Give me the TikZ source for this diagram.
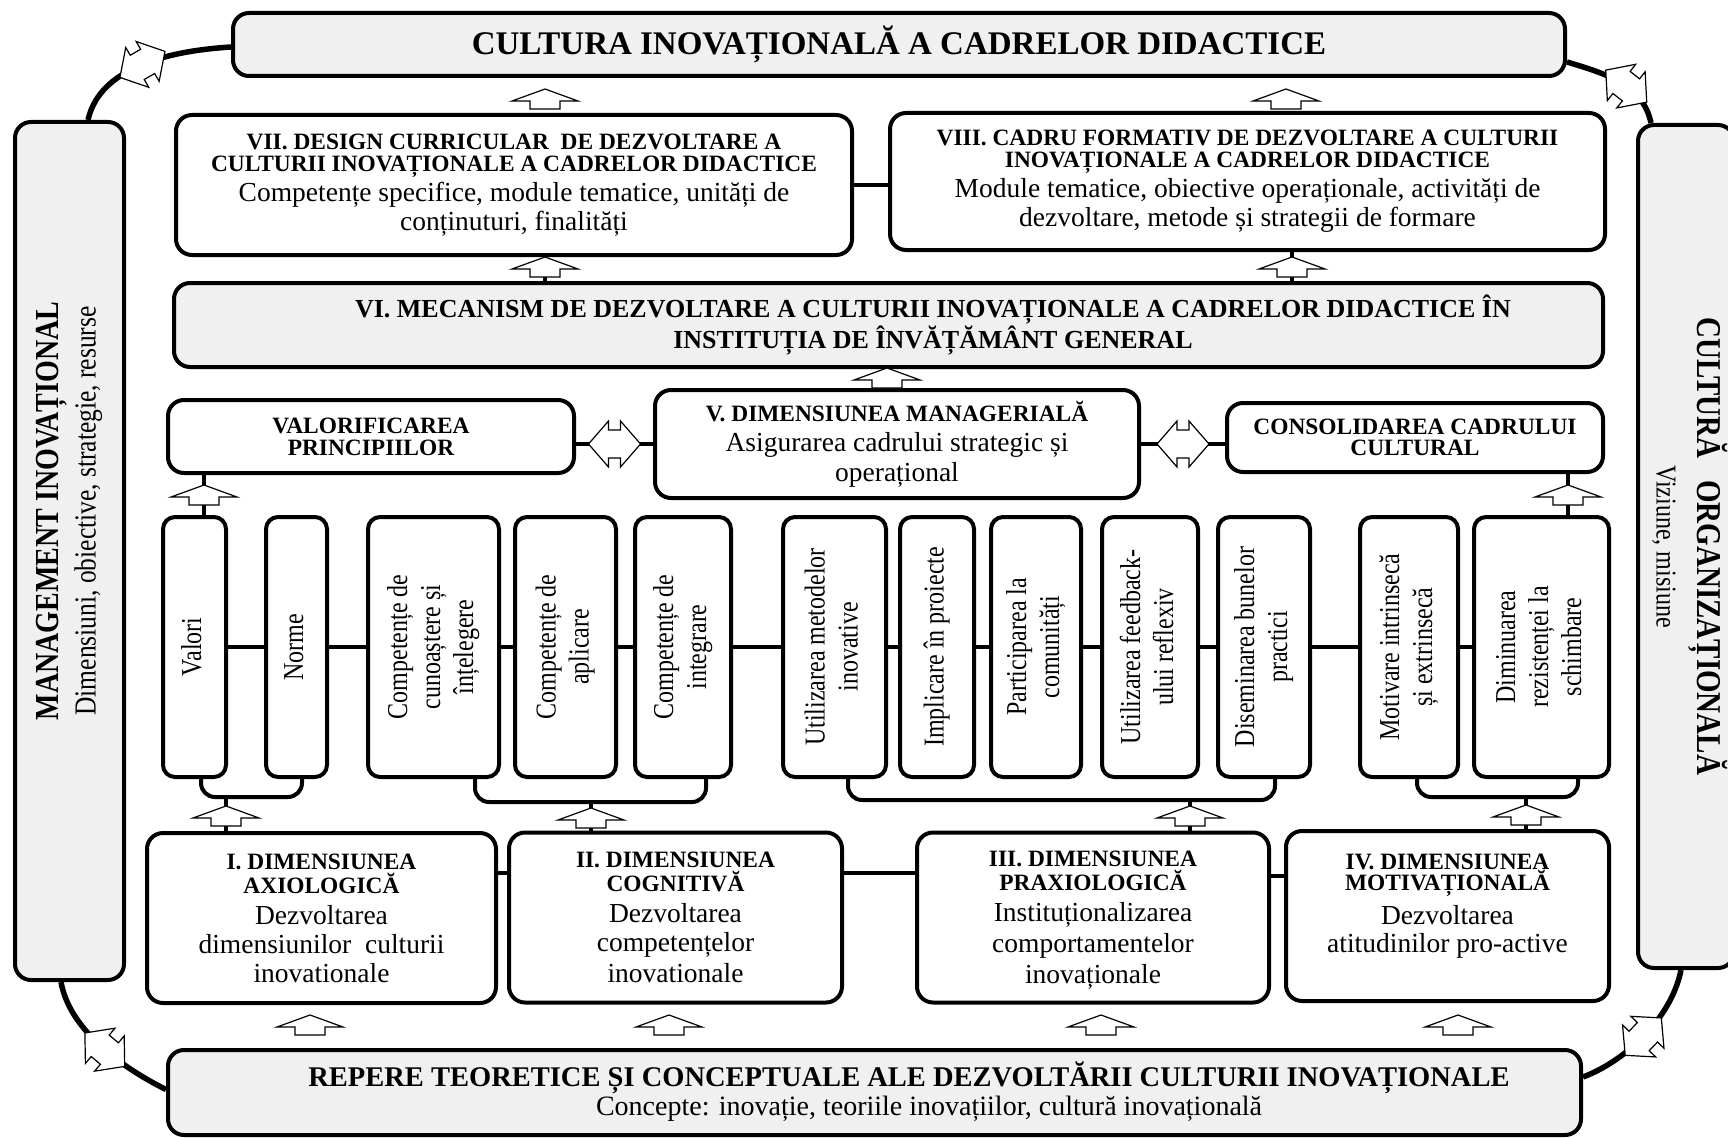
\documentclass[tikz,border=0pt]{standalone}
\usepackage{fontspec}
\setmainfont{Liberation Serif}
\usepackage{graphicx}
\usetikzlibrary{calc}
\newcommand{\titlefont}{\fontsize{33}{36}\selectfont\bfseries}
\newcommand{\hdfont}{\fontsize{23.4}{24}\selectfont\bfseries}
\newcommand{\bdfont}{\normalfont\fontsize{27.5}{29}\selectfont}
\newcommand{\vtfont}{\fontsize{24}{27.5}\selectfont}
\newcommand{\vtext}[1]{\rotatebox{90}{\scalebox{1}[1.2]{\vtfont\begin{tabular}{@{}c@{}}#1\end{tabular}}}}
\begin{document}
\begin{tikzpicture}[x=1pt,y=-1pt,
  box/.style={draw,line width=4pt,rounded corners=16pt,fill=white,align=center,inner sep=0pt,font=\hdfont},
  graybox/.style={box,fill=black!6},
  vbox/.style={draw,line width=4pt,rounded corners=12pt,fill=white,inner sep=0pt,minimum height=260},
  dimbox/.style={box,minimum height=170,text depth=0pt},
  conn/.style={line width=4pt},
  ring/.style={line width=5.5pt},
  uparr/.pic={\draw[line width=1.2pt,fill=white] (-15,10)--(-15,2)--(-33,2)--(0,-10)--(33,2)--(15,2)--(15,10)--cycle;},
  dblarr/.pic={\draw[line width=1.2pt,fill=white] (-26,0)--(-6,-23)--(-6,-14)--(6,-14)--(6,-23)--(26,0)--(6,23)--(6,14)--(-6,14)--(-6,23)--cycle;}]
\useasboundingbox (0,0) rectangle (1728,1137);

% outer frame
\node[graybox,minimum width=1332,minimum height=63,font=\titlefont] (cult) at (899,44.5) {CULTURA INOVAȚIONALĂ A CADRELOR DIDACTICE};
\node[graybox,minimum width=109,minimum height=858,font=\normalfont] (mgmt) at (69.5,551) {\rotatebox{90}{\hspace*{80pt}\scalebox{1}[1.2]{\fontsize{28}{31}\selectfont\begin{tabular}{@{}c@{}}\textbf{MANAGEMENT INOVAȚIONAL}\\{\fontsize{25.5}{31}\selectfont Dimensiuni, obiective, strategie, resurse}\end{tabular}}}};
\node[graybox,minimum width=96,minimum height=843,font=\normalfont] (org) at (1686,546.5) {\rotatebox{-90}{\scalebox{1}[1.2]{\fontsize{29}{34}\selectfont\begin{tabular}{@{}c@{}}\textbf{CULTURĂ\hspace{0.5em} ORGANIZAȚIONALĂ}\\{\fontsize{24}{34}\selectfont Viziune, misiune}\end{tabular}}}};
\node[graybox,minimum width=1413,minimum height=85] (rep) at (874.5,1092.5) {};
\node[align=center,font=\normalfont\fontsize{28}{29}\selectfont] (reptxt) at (909,1092) {{\fontsize{28.5}{29}\selectfont\bfseries REPERE TEORETICE ȘI CONCEPTUALE ALE DEZVOLTĂRII CULTURII INOVAȚIONALE}\\\hspace*{40pt}Concepte: inovație, teoriile inovațiilor, cultură inovațională};

\draw[ring] ([xshift=18.5pt]mgmt.north) .. controls +(10,-45) and +(-80,5) .. coordinate[pos=.56] (tlm) ([yshift=-2.5pt]cult.west);
\draw[ring] ([yshift=-17.5pt]cult.east) .. controls +(40,12) and +(-8,-38) .. coordinate[pos=.56] (trm) ([xshift=-35pt]org.north);
\draw[ring] ([xshift=-8.5pt]mgmt.south) .. controls +(8,45) and +(-50,-25) .. coordinate[pos=.56] (blm) ([yshift=3pt]rep.west);
\draw[ring] ([yshift=15.5pt]rep.east) .. controls +(40,-15) and +(-10,50) .. coordinate[pos=.5] (brm) ([xshift=-5pt]org.south);
\pic[rotate=30] at (tlm) {dblarr};
\pic[rotate=-38] at (trm) {dblarr};
\pic[rotate=-40] at (blm) {dblarr};
\pic[rotate=46] at (brm) {dblarr};

% upper levels
\node[box,minimum width=676,minimum height=140] (vii) at (514,185) {VII. DESIGN CURRICULAR\ \ DE DEZVOLTARE A\\[-2pt]CULTURII INOVAȚIONALE A CADRELOR DIDACTICE\\[4pt]{\bdfont Competențe specifice, module tematice, unități de}\\[3pt]{\bdfont conținuturi, finalități}};
\node[box,minimum width=715,minimum height=137] (viii) at (1247.5,181.5) {VIII. CADRU FORMATIV DE DEZVOLTARE A CULTURII\\[-2pt]INOVAȚIONALE A CADRELOR DIDACTICE\\[4pt]{\bdfont Module tematice, obiective operaționale, activități de}\\[3pt]{\bdfont dezvoltare, metode și strategii de formare}};
\node[graybox,minimum width=1429,minimum height=84] (vi) at (888.5,325) {};
\node[align=center,font=\fontsize{26}{26}\selectfont\bfseries] (vitxt) at (933,325) {VI. MECANISM DE DEZVOLTARE A CULTURII INOVAȚIONALE A CADRELOR DIDACTICE ÎN\\INSTITUȚIA DE ÎNVĂȚĂMÂNT GENERAL};
\node[box,minimum width=406,minimum height=73] (val) at (371,436.5) {VALORIFICAREA\\[-2pt]PRINCIPIILOR};
\node[box,minimum width=484,minimum height=108] (v) at (897,444) {V. DIMENSIUNEA MANAGERIALĂ\\[6pt]{\bdfont Asigurarea cadrului strategic și}\\[4pt]{\bdfont operațional}};
\node[box,minimum width=376,minimum height=69] (cons) at (1415,437.5) {CONSOLIDAREA CADRULUI\\[-3pt]CULTURAL};

\pic at (545,99) {uparr};
\pic at (1286,99) {uparr};
\draw[conn] (vii.east) -- (vii.east -| viii.west);
\coordinate (a1) at (545,267);
\coordinate (a2) at (1292,267);
\coordinate (a3) at (887,378);
\draw[conn] (a1 |- vi.north) -- (a1 |- vii.south);
\draw[conn] (a2 |- vi.north) -- (a2 |- viii.south);
\draw[conn] (a3 |- v.north) -- (a3 |- vi.south);
\pic at (a1) {uparr};
\pic at (a2) {uparr};
\pic at (a3) {uparr};
\draw[conn] (v.west) -- (v.west -| val.east) coordinate[pos=.5] (d1);
\draw[conn] (v.east) -- (v.east -| cons.west) coordinate[pos=.5] (d2);
\pic at (d1) {dblarr};
\pic at (d2) {dblarr};

% components
\node[vbox,minimum width=63] (valori) at (194.5,647) {\vtext{Valori}};
\node[vbox,minimum width=61] (norme) at (296.5,647) {\vtext{Norme}};
\node[vbox,minimum width=131] (cun) at (433.5,647) {\vtext{Competențe de\\cunoaștere și\\înțelegere}};
\node[vbox,minimum width=101] (apl) at (565.5,647) {\vtext{Competențe de\\aplicare}};
\node[vbox,minimum width=96] (integ) at (683,647) {\vtext{Competențe de\\integrare}};
\node[vbox,minimum width=103] (util) at (834.5,647) {\vtext{Utilizarea metodelor\\inovative}};
\node[vbox,minimum width=74] (impl) at (937,647) {\vtext{Implicare în proiecte}};
\node[vbox,minimum width=90] (part) at (1036,647) {\vtext{Participarea la\\comunități}};
\node[vbox,minimum width=96] (feed) at (1150,647) {\vtext{Utilizarea feedback-\\ului reflexiv}};
\node[vbox,minimum width=92] (dis) at (1264,647) {\vtext{Diseminarea bunelor\\practici}};
\node[vbox,minimum width=98] (motiv) at (1409,647) {\vtext{Motivare intrinsecă\\și extrinsecă}};
\node[vbox,minimum width=135] (dimin) at (1541.5,647) {\vtext{Diminuarea\\rezistenței la\\schimbare}};
\foreach \a/\b in {valori/norme,norme/cun,cun/apl,apl/integ,integ/util,util/impl,impl/part,part/feed,feed/dis,dis/motiv,motiv/dimin}
  \draw[conn] (\a) -- (\b);

\coordinate (a4) at (204,495);
\coordinate (a5) at (1568,495);
\draw[conn] (a4 |- valori.north) -- (a4 |- val.south);
\draw[conn] (a5 |- dimin.north) -- (a5 |- cons.south);
\pic at (a4) {uparr};
\pic at (a5) {uparr};

% dimensions
\node[dimbox,minimum width=349] (dI) at (321.5,918) {I. DIMENSIUNEA\\AXIOLOGICĂ\\[7pt]{\bdfont Dezvoltarea}\\[5pt]{\bdfont dimensiunilor\ \ culturii}\\[5pt]{\bdfont inovationale}};
\node[dimbox,minimum width=333] (dII) at (675.5,917.5) {II. DIMENSIUNEA\\COGNITIVĂ\\[7pt]{\bdfont Dezvoltarea}\\[5pt]{\bdfont competențelor}\\[5pt]{\bdfont inovationale}};
\node[dimbox,minimum width=352] (dIII) at (1093,917.5) {III. DIMENSIUNEA\\PRAXIOLOGICĂ\\[7pt]{\bdfont Instituționalizarea}\\[5pt]{\bdfont comportamentelor}\\[5pt]{\bdfont inovaționale}};
\node[dimbox,minimum width=323,text depth=26pt] (dIV) at (1447.5,916) {IV. DIMENSIUNEA\\[-3pt]MOTIVAȚIONALĂ\\[8pt]{\bdfont Dezvoltarea}\\[4pt]{\bdfont atitudinilor pro-active}};
\draw[conn] ([yshift=45pt]dI.east) -- ([yshift=45pt]dI.east -| dII.west);
\draw[conn] ([yshift=45pt]dII.east) -- ([yshift=45pt]dII.east -| dIII.west);
\draw[conn] ([yshift=42pt]dIII.east) -- ([yshift=42pt]dIII.east -| dIV.west);

% brackets to the dimensions
\draw[conn,rounded corners=14pt] ([xshift=6.5pt]valori.south) -- ++(0,18) -| ([xshift=5.5pt]norme.south);
\draw[conn,rounded corners=14pt] ([xshift=41.5pt]cun.south) -- ++(0,23) -| ([xshift=23pt]integ.south);
\draw[conn,rounded corners=14pt] ([xshift=13.5pt]util.south) -- ++(0,21) -| ([xshift=11pt]dis.south);
\draw[conn,rounded corners=14pt] ([xshift=8pt]motiv.south) -- ++(0,18) -| ([xshift=36.5pt]dimin.south);
\coordinate (k1) at (226,795);
\coordinate (k2) at (591,800);
\coordinate (k3) at (1190,798);
\coordinate (k4) at (1526,795);
\draw[conn] (k1) -- (k1 |- dI.north);
\draw[conn] (k2) -- (k2 |- dII.north);
\draw[conn] (k3) -- (k3 |- dIII.north);
\draw[conn] (k4) -- (k4 |- dIV.north);
\pic at (226,816) {uparr};
\pic at (591,818) {uparr};
\pic at (1190,816) {uparr};
\pic at (1526,815) {uparr};

\pic at (310,1025) {uparr};
\pic at (669,1025) {uparr};
\pic at (1101,1025) {uparr};
\pic at (1458,1025) {uparr};
\end{tikzpicture}
\end{document}
